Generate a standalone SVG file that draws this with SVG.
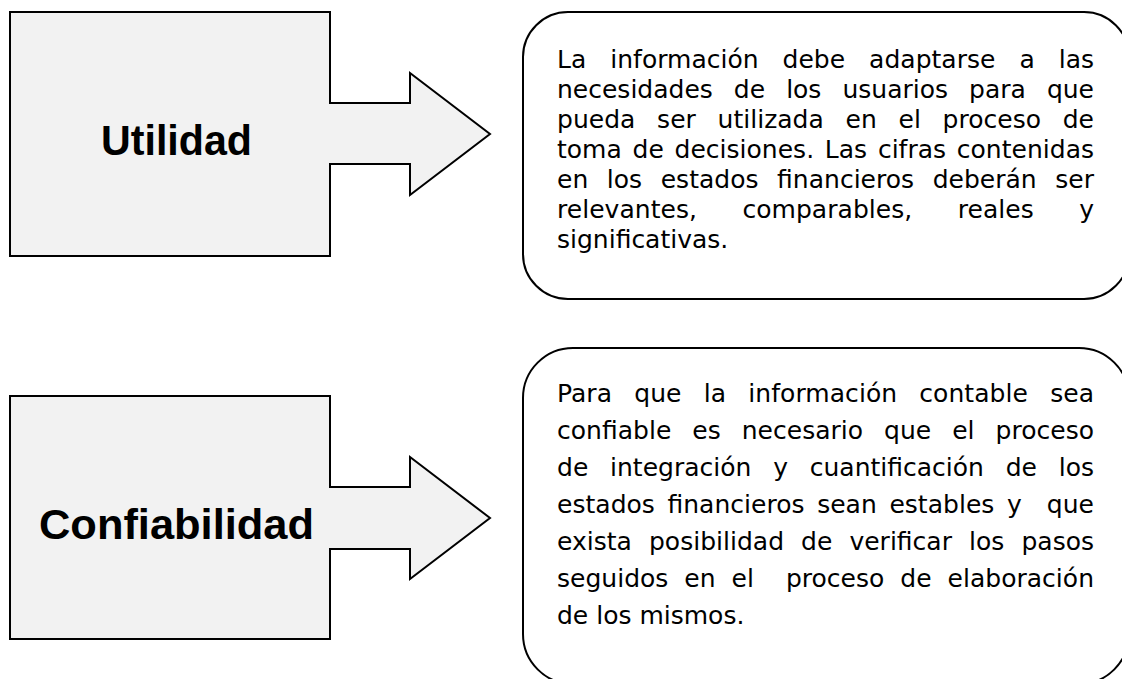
<svg xmlns="http://www.w3.org/2000/svg" width="1122" height="679" viewBox="0 0 1122 679">
<style>
.shape{fill:#f2f2f2;stroke:#000;stroke-width:2;stroke-linejoin:miter}
.box{fill:#fff;stroke:#000;stroke-width:2}
.title{font-family:"Liberation Sans",Arial,sans-serif;font-weight:bold;font-size:42px;fill:#000}
.body{font-family:"DejaVu Sans",sans-serif;font-size:25px;fill:#000}
</style>
<rect width="1122" height="679" fill="#fff"/>
<g id="utilidad">
<path class="shape" d="M10,12 H330 V103 H410 V73 L490,134 L410,195 V164 H330 V256 H10 Z"/>
<text class="title" x="101" y="155" textLength="151" lengthAdjust="spacingAndGlyphs">Utilidad</text>
</g>
<g id="confiabilidad">
<path class="shape" d="M10,396 H330 V487 H410 V457 L490,518 L410,579 V549 H330 V639 H10 Z"/>
<text class="title" x="39" y="539" textLength="275" lengthAdjust="spacingAndGlyphs">Confiabilidad</text>
</g>
<g id="desc-utilidad">
<rect class="box" x="523" y="12" width="606" height="287" rx="45" ry="45"/>
<text class="body" x="557" y="68" word-spacing="16" textLength="537" lengthAdjust="spacing">La información debe adaptarse a las</text>
<text class="body" x="557" y="98" word-spacing="13.1" textLength="537" lengthAdjust="spacing">necesidades de los usuarios para que</text>
<text class="body" x="557" y="128" word-spacing="13.7" textLength="537" lengthAdjust="spacing">pueda ser utilizada en el proceso de</text>
<text class="body" x="557" y="158" word-spacing="2.8" textLength="537" lengthAdjust="spacing">toma de decisiones. Las cifras contenidas</text>
<text class="body" x="557" y="188" word-spacing="10.6" textLength="537" lengthAdjust="spacing">en los estados financieros deberán ser</text>
<text class="body" x="557" y="218" word-spacing="37.5" textLength="537" lengthAdjust="spacing">relevantes, comparables, reales y</text>
<text class="body" x="557" y="248">significativas.</text>
</g>
<g id="desc-confiabilidad">
<rect class="box" x="523" y="348" width="606" height="336" rx="50" ry="50"/>
<text class="body" x="557" y="402" word-spacing="14.2" textLength="537" lengthAdjust="spacing">Para que la información contable sea</text>
<text class="body" x="557" y="439" word-spacing="13" textLength="537" lengthAdjust="spacing">confiable es necesario que el proceso</text>
<text class="body" x="557" y="476" word-spacing="13.8" textLength="537" lengthAdjust="spacing">de integración y cuantificación de los</text>
<text class="body" x="557" y="513" xml:space="preserve" word-spacing="4.6" textLength="537" lengthAdjust="spacing">estados financieros sean estables y  que</text>
<text class="body" x="557" y="550" word-spacing="9.1" textLength="537" lengthAdjust="spacing">exista posibilidad de verificar los pasos</text>
<text class="body" x="557" y="587" xml:space="preserve" word-spacing="8" textLength="537" lengthAdjust="spacing">seguidos en el  proceso de elaboración</text>
<text class="body" x="557" y="624">de los mismos.</text>
</g>
<g id="connectors"></g>
</svg>
